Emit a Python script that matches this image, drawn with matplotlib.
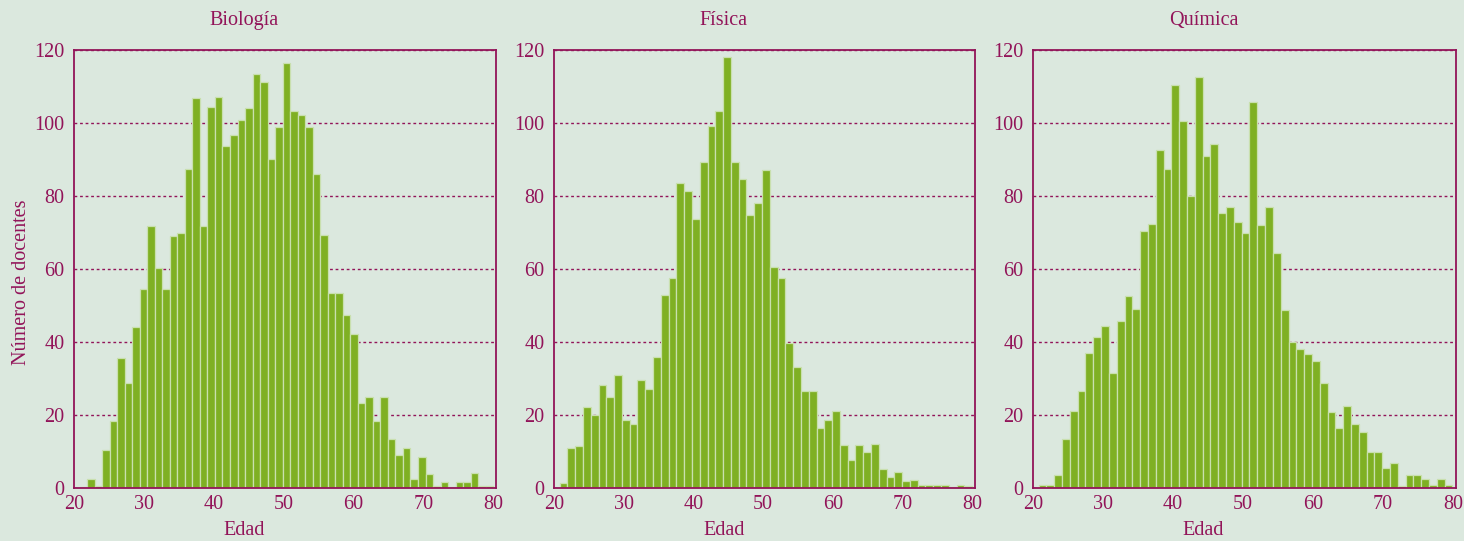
import numpy as np
import matplotlib
matplotlib.use("Agg")
import matplotlib.pyplot as plt

# ---- data ----
titles = ["Biología", "Física", "Química"]
xlabel = "Edad"
ylabel = "Número de docentes"

biologia = [0.4, 2.5, 0.5, 10.5, 18.3, 35.5, 28.7, 44, 54.4, 71.9,
            60.3, 54.5, 69.1, 70, 87.4, 106.9, 71.8, 104.4, 107.1, 93.7,
            96.6, 100.8, 104, 113.5, 111.3, 90.1, 98.9, 116.5, 103.2, 102.1,
            99, 86, 69.4, 53.3, 53.3, 47.3, 42.1, 23.3, 24.8, 18.3,
            24.8, 13.5, 9.1, 11, 2.5, 8.5, 3.9, 0.5, 1.6, 0.3,
            1.6, 1.6, 4.1, 0.5, 0.5]
fisica = [1.5, 11, 11.6, 22.1, 20, 28.2, 25, 30.9, 18.5, 17.5,
          29.5, 27.2, 35.9, 53, 57.6, 83.6, 81.4, 73.6, 89.4, 99.1,
          103.3, 118.2, 89.4, 84.6, 74.8, 78.2, 87.2, 60.5, 57.6, 39.6,
          33.1, 26.5, 26.5, 16.5, 18.6, 21.2, 11.7, 7.7, 11.8, 9.9,
          12, 5.3, 3.1, 4.4, 2, 2.1, 0.9, 0.9, 0.9, 0.9,
          0.3, 0.9, 0.5]
quimica = [0.9, 0.9, 3.6, 13.5, 21.2, 26.7, 36.9, 41.5, 44.5, 31.5,
           45.8, 52.7, 49.1, 70.3, 72.3, 92.5, 87.4, 110.5, 100.5, 80.1,
           112.7, 91, 94.3, 75.4, 76.9, 73, 70, 105.8, 72.1, 76.9,
           64.5, 48.9, 40.1, 38.2, 36.7, 34.7, 28.8, 20.8, 16.5, 22.5,
           17.6, 15.4, 9.9, 9.9, 5.5, 6.8, 0.5, 3.5, 3.5, 2.5,
           0.9, 2.5, 0.9]
age_min = [20.8, 20.8, 20.8]
age_max = [80.0, 80.0, 79.9]
xticks = [20, 30, 40, 50, 60, 70, 80]
yticks = [0, 20, 40, 60, 80, 100, 120]

series = [biologia, fisica, quimica]

# ---- style ----
BG = "#dbe8de"
MAG = "#921459"
BAR = "#7fb023"
EDGE = "#c9e0ae"
FONT = ["Liberation Serif", "DejaVu Serif"]
plt.rcParams["font.family"] = FONT

W, H = 1464, 541
fig = plt.figure(figsize=(W / 100, H / 100), dpi=100, facecolor=BG)

lefts = [74, 554, 1033]
rights = [496, 975, 1456]
top, bottom = 50, 488

for i, (title, counts) in enumerate(zip(titles, series)):
    l, r = lefts[i], rights[i]
    ax = fig.add_axes([l / W, (H - bottom) / H, (r - l) / W, (bottom - top) / H])
    ax.set_facecolor(BG)
    edges = np.linspace(age_min[i], age_max[i], len(counts) + 1)
    ax.bar(edges[:-1], counts, width=np.diff(edges), align="edge",
           color=BAR, edgecolor=EDGE, linewidth=0.9, zorder=3)
    ax.set_xlim(20.15, 80.4)
    ax.set_ylim(0, 120)
    ax.set_xticks(xticks)
    ax.set_yticks(yticks)
    ax.grid(axis="y", color=MAG, linestyle=(0, (2.0, 2.0)), linewidth=1.0, zorder=1)
    ax.tick_params(length=0, labelsize=14.5, labelcolor=MAG)
    ax.tick_params(axis="x", pad=5)
    ax.tick_params(axis="y", pad=7)
    for s in ax.spines.values():
        s.set_color(MAG)
        s.set_linewidth(1.3)
        s.set_zorder(4)
    ax.set_title(title, color=MAG, fontsize=14.5, x=0.403, y=1.068, va="center", pad=0)
    ax.set_xlabel(xlabel, color=MAG, fontsize=14.5)
    ax.xaxis.set_label_coords(0.403, -0.096)
    ax.xaxis.label.set_va("center")
    if i == 0:
        ax.set_ylabel(ylabel, color=MAG, fontsize=14.5)
        ax.yaxis.set_label_coords(-52 / (r - l), 0.47)
        ax.yaxis.label.set_va("center")

fig.savefig("out.png", dpi=100, facecolor=BG)
